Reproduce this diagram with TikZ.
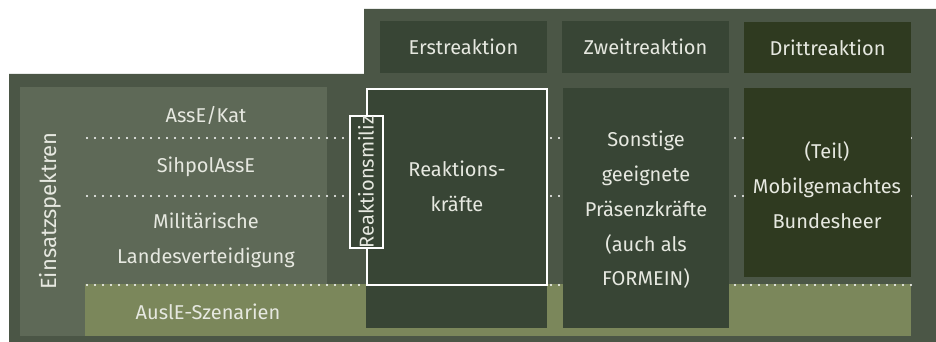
\documentclass[tikz,border=0pt]{standalone}
\usepackage{fontspec}
\setmainfont{Fira Sans}
\definecolor{bgc}{HTML}{4B5646}
\definecolor{panelc}{HTML}{5E6957}
\definecolor{olivec}{HTML}{7B875B}
\definecolor{darkc}{HTML}{384535}
\definecolor{darkerc}{HTML}{2F3A20}
\definecolor{txtc}{HTML}{E6E8E0}
\begin{document}
\begin{tikzpicture}[x=1pt,y=-1pt,
  box/.style={inner sep=0pt, outer sep=0pt, anchor=north west},
  lbl/.style={text=txtc, align=center, font=\fontsize{20}{34.8}\selectfont, inner sep=0pt},
  dots/.style={draw=white, line width=2.2pt, line cap=round, dash pattern=on 0pt off 8pt}]
\useasboundingbox (0,0) rectangle (936,342);
% background
\fill[bgc] (9,74) -- (364,74) -- (364,9) -- (936,9) -- (936,342) -- (9,342) -- cycle;
% left panel and olive band
\node[box, fill=panelc, minimum width=307, minimum height=249] (panel) at (20,87) {};
\node[box, fill=olivec, minimum width=826, minimum height=52] (ausl) at (85,284) {};
% dotted separators
\coordinate (d1a) at (87,138); \coordinate (d1b) at (915,138);
\coordinate (d2a) at (87,196); \coordinate (d2b) at (915,196);
\coordinate (d3a) at (87,285); \coordinate (d3b) at (911,285);
\draw[dots] (d1a) -- (d1b);
\draw[dots] (d2a) -- (d2b);
\draw[dots] (d3a) -- (d3b);
% headers
\node[box, lbl, fill=darkc, minimum width=167, minimum height=52] (h1) at (380,21) {Erstreaktion};
\node[box, lbl, fill=darkc, minimum width=167, minimum height=52] (h2) at (562,21) {Zweitreaktion};
\node[box, lbl, fill=darkerc, minimum width=167, minimum height=51] (h3) at (744,22) {Drittreaktion};
% bodies
\node[box, fill=darkc, minimum width=181, minimum height=240] (rkbg) at (366,88) {};
\node[box, draw=white, line width=2pt, minimum width=180, minimum height=196] (rk) at (367,89) {};
\node[box, fill=darkc, minimum width=166, minimum height=240] (zw) at (563,88) {};
\node[box, fill=darkerc, minimum width=167, minimum height=189] (dr) at (744,88) {};
% Reaktionsmiliz
\node[lbl, draw=white, fill=darkc, line width=2pt, rotate=90, minimum width=132, minimum height=33] (rm) at (366,182) {Reaktionsmiliz};
% texts
\node[lbl, font=\fontsize{22}{26}\selectfont, rotate=90] (es) at (50,211) {Einsatzspektren};
\node[lbl] (t1) at (206,115) {AssE/Kat};
\node[lbl] (t2) at (206,167) {SihpolAssE};
\node[lbl] (t3) at (206,240) {Militärische\\Landesverteidigung};
\node[lbl] (t4) at (208,312) {AuslE-Szenarien};
\node[lbl] (t5) at (457,186) {Reaktions-\\kräfte};
\node[lbl] (t6) at (646,210) {Sonstige\\geeignete\\Präsenzkräfte\\(auch als\\FORMEIN)};
\node[lbl] (t7) at (827,185) {(Teil)\\Mobilgemachtes\\Bundesheer};
\end{tikzpicture}
\end{document}
